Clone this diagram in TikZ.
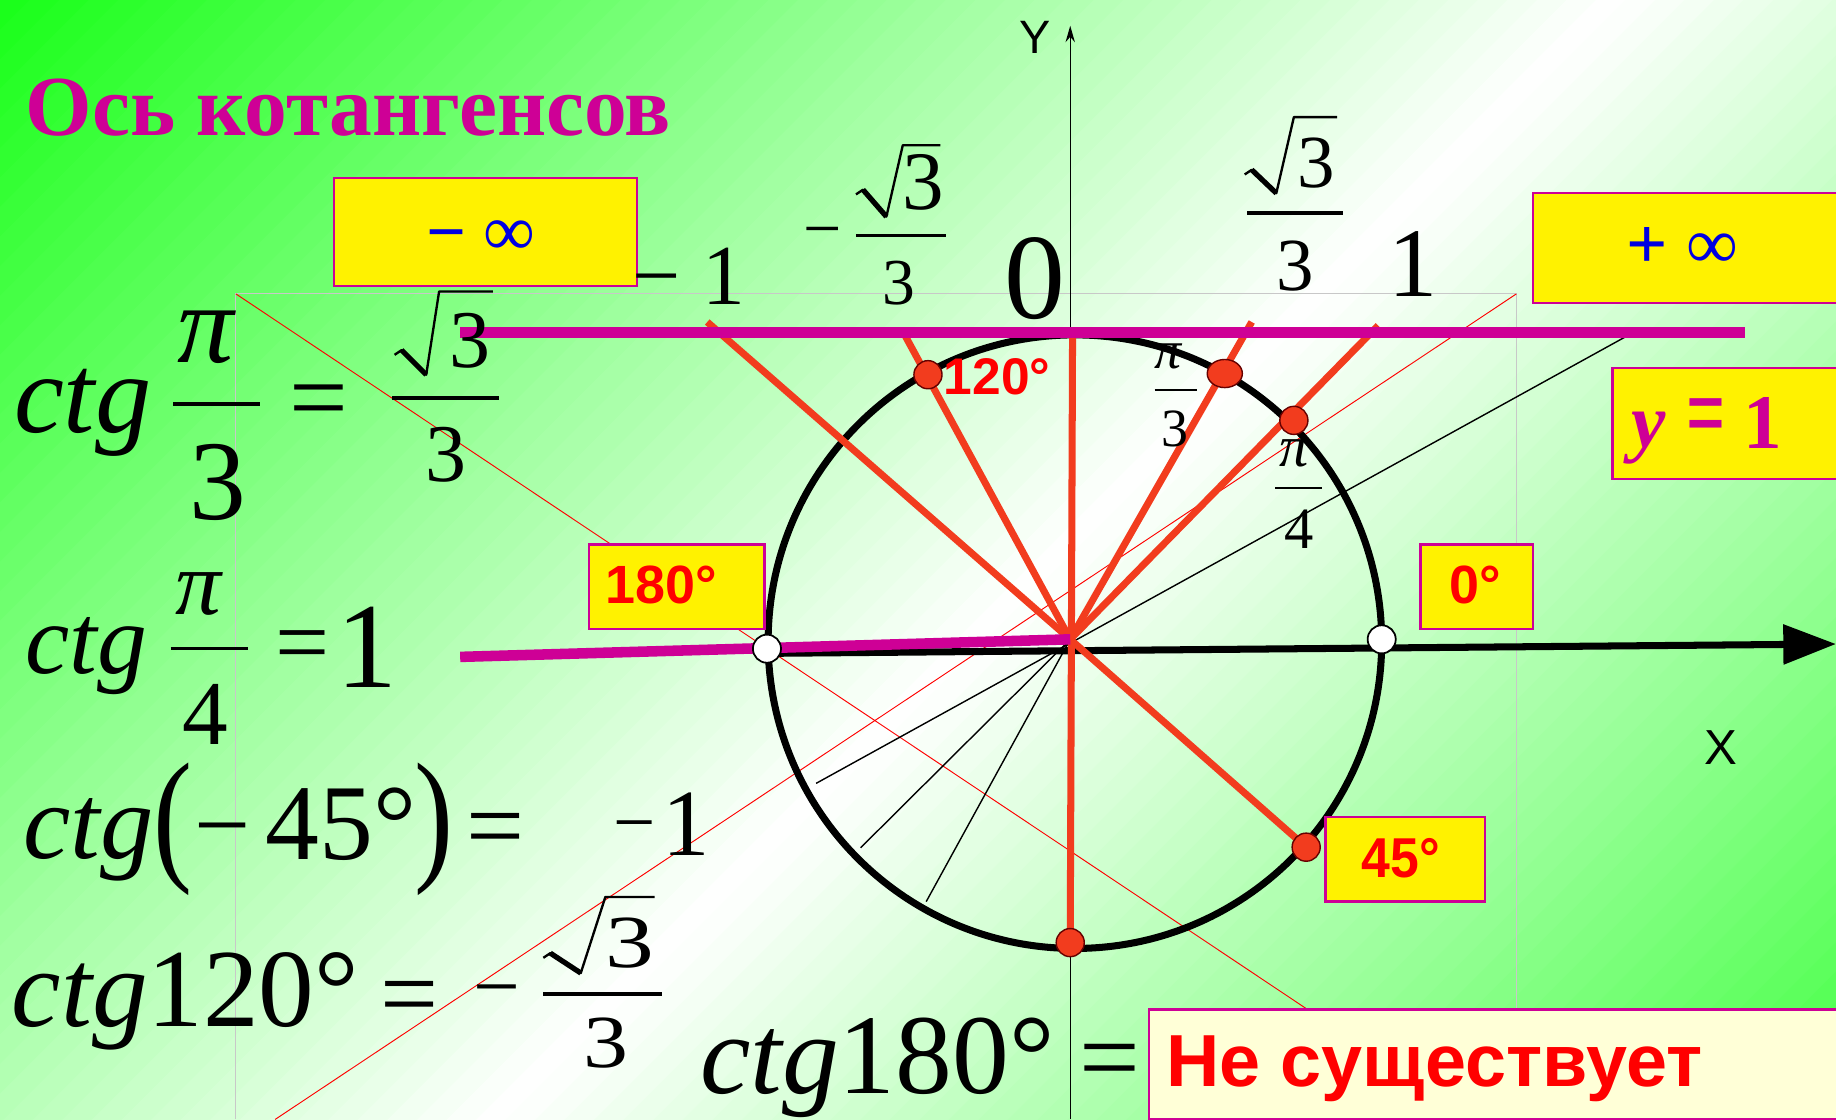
\documentclass[tikz,border=0pt]{standalone}
\usepackage{fontspec}
\setmainfont{Liberation Serif}
\newfontfamily\arialf{Liberation Sans}
\usepackage{graphicx}
\usetikzlibrary{arrows.meta,shapes.geometric}
\newcommand\fsz[1]{\fontsize{#1}{#1}\selectfont}
% radical: tick x,y ; bottom x,y ; top x,y ; end x
\newcommand\radic[7]{%
  \draw[line width=2pt,line join=round] ({#1-6},{#2+4}) -- (#1,#2) -- (#3,#4) -- (#5,#6) -- (#7,#6);
  \draw[line width=4.5pt] (#1,#2) -- (#3,#4);}
\definecolor{gA}{RGB}{25,255,25}
\definecolor{gB}{RGB}{70,255,70}
\definecolor{mag}{RGB}{206,0,150}
\definecolor{redl}{RGB}{242,60,30}
\definecolor{bluet}{RGB}{0,0,225}
\definecolor{grayl}{RGB}{200,200,200}
\definecolor{yelA}{RGB}{255,255,215}
\definecolor{yelB}{RGB}{255,255,120}
\definecolor{redt}{RGB}{255,0,0}
\begin{document}
\begin{tikzpicture}[x=1pt,y=-1pt,
  txt/.style={inner sep=0pt,outer sep=0pt,anchor=base west},
  ybox/.style={draw=mag,line width=2pt,fill=yellow,inner sep=0pt,anchor=north west},
  redline/.style={draw=redl,line width=6pt},
  magline/.style={draw=mag,line width=9pt},
  thinblk/.style={draw=black,line width=1.2pt},
  thinred/.style={draw=red,line width=0.8pt},
  redpt/.style={circle,fill=redl,draw=black!60!red,line width=1.2pt,inner sep=0pt,minimum size=24pt},
  redov/.style={ellipse,fill=redl,draw=black!60!red,line width=1.2pt,inner sep=0pt,minimum width=30pt,minimum height=24pt},
  whitept/.style={circle,fill=white,draw=black,line width=1.5pt,inner sep=0pt,minimum size=24pt},
  lbl/.style={txt,text=redt,font=\arialf\bfseries},
  bar/.style={line width=3pt}]
\useasboundingbox (0,0) rectangle (1568,956);
% background gradient
\begin{scope}
\clip (0,0) rectangle (1568,956);
\foreach \i in {0,...,99}{
  \pgfmathsetmacro\ta{\i*25.24}
  \pgfmathsetmacro\tm{\ta+12.62}
  \pgfmathsetmacro\tb{\ta+27}
  \ifdim\tm pt<1380pt
    \pgfmathsetmacro\pp{\tm/1380*100}
    \colorlet{sc}{white!\pp!gA}
  \else
    \pgfmathsetmacro\pp{(\tm-1380)/1144*100}
    \colorlet{sc}{gB!\pp!white}
  \fi
  \fill[sc] (\ta,0) -- (\tb,0) -- (\tb-1000,1000) -- (\ta-1000,1000) -- cycle;
}
\end{scope}
% key points
\coordinate (O) at (914,546);
\coordinate (C) at (918,548);
\coordinate (Pm1) at (604,275);
\coordinate (P45) at (1115.5,723.5);
\coordinate (P120) at (792.5,320);
\coordinate (T120) at (771,283);
\coordinate (P60) at (1046,319);
\coordinate (T60) at (1069,275);
\coordinate (P45u) at (1105,359);
\coordinate (T45u) at (1177,278);
\coordinate (Ptop) at (916,284);
\coordinate (Pbot) at (914,805);
\coordinate (A30) at (1393,285);
\coordinate (B210) at (697,669);
\coordinate (B225) at (735,724);
\coordinate (B240) at (791,770);
\coordinate (GL) at (201.5,251);
\coordinate (GR) at (1295,251);
\coordinate (GLb) at (201.5,956);
\coordinate (GRb) at (1295,956);
\coordinate (D1) at (1115,861);
\coordinate (D2) at (235,956);
\coordinate (XL) at (655,558);
\coordinate (XR) at (1568,550);
\coordinate (YB) at (914,956);
\coordinate (YT) at (914,22);
\coordinate (M1a) at (393,284);
\coordinate (M1b) at (1490,284);
\coordinate (M2a) at (393,561);
\coordinate (M2b) at (914,546);
% gray frame and thin red diagonals
\draw[grayl,line width=0.9pt] (GLb) -- (GL) -- (GR) -- (GRb);
\draw[thinred] (GL) -- (D1);
\draw[thinred] (GR) -- (D2);
% thin black lines
\draw[thinblk] (B210) -- (A30);
\draw[thinblk] (O) -- (B225);
\draw[thinblk] (O) -- (B240);
% circle
\draw[line width=6pt] (C) circle[radius=262];
% axes
\draw[line width=1.2pt,-{Stealth[length=14pt,width=8pt]}] (YB) -- (YT);
\draw[line width=6pt,-{Triangle[length=45pt,width=33pt]}] (XL) -- (XR);
% red lines
\draw[redline] (Pm1) -- (O) -- (P45);
\draw[redline] (T120) -- (O);
\draw[redline] (T60) -- (O);
\draw[redline] (T45u) -- (O);
\draw[redline] (Ptop) -- (Pbot);
% magenta lines
\draw[magline] (M1a) -- (M1b);
\draw[magline] (M2a) -- (M2b);
% points
\node[redpt] (dot120) at (P120) {};
\node[redov] (dot60) at (P60) {};
\node[redpt] (dot45u) at (P45u) {};
\node[redpt] (dot45) at (P45) {};
\node[redpt] (dotbot) at (Pbot) {};
\node[whitept] (w180) at (655,554) {};
\node[whitept] (w0) at (1180,546) {};
% axis labels
\node[txt,font=\arialf\fsz{40}] (ylab) at (871,46) {Y};
\node[txt,font=\arialf\fsz{42}] (xlab) at (1456,653) {X};
% title
\node[txt,font=\fsz{73}\bfseries,text=mag] (title) at (22,116) {Ось котангенсов};
% boxes
\node[ybox,minimum width=259pt,minimum height=92pt] (boxneg) at (284,151) {};
\node[txt,font=\fsz{60}\bfseries,text=bluet] (negm) at (364,218) {−};
\node[txt,font=\fsz{62},text=bluet] (neginf) at (413,218) {∞};
\node[ybox,minimum width=262pt,minimum height=94pt] (boxpos) at (1308,164) {};
\node[txt,font=\fsz{62}\bfseries,text=bluet] (posp) at (1389,229) {+};
\node[txt,font=\fsz{62},text=bluet] (posinf) at (1440,229) {∞};
\node[ybox,minimum width=194pt,minimum height=95pt] (boxy) at (1376,313) {};
\node[txt,font=\fsz{66}\bfseries\itshape,text=mag] (yy) at (1393,382) {y};
\node[txt,font=\fsz{62}\bfseries,text=mag] (yeq) at (1440,384) {\scalebox{0.95}[1.5]{=}};
\node[txt,font=\fsz{66}\bfseries,text=mag] (y1) at (1489,383) {1};
\node[ybox,minimum width=150pt,minimum height=72pt] (box180) at (502,464) {};
\node[lbl,font=\arialf\bfseries\fsz{46}] (t180) at (517,515) {180°};
\node[ybox,minimum width=96pt,minimum height=72pt] (box0) at (1212,464) {};
\node[lbl,font=\arialf\bfseries\fsz{46}] (t0) at (1238,515) {0°};
\node[ybox,minimum width=136pt,minimum height=72pt] (box45) at (1131,697) {};
\node[lbl,font=\arialf\bfseries\fsz{48}] (t45) at (1163,749) {\scalebox{0.92}[1]{45°}};
\node[lbl,font=\arialf\bfseries\fsz{44}] (t120) at (806,337) {120°};
\node[draw=mag,line width=2pt,left color=yelA,middle color=yelB,right color=yelA,
      inner sep=0pt,anchor=north west,minimum width=590pt,minimum height=94pt] (boxne) at (980,861) {};
\node[lbl,font=\arialf\bfseries\fsz{63}] (tne) at (996,928) {Не существует};
% numbers on the cotangent axis
\node[txt,font=\fsz{73}] (am1m) at (540,260) {−};
\node[txt,font=\fsz{73}] (am1) at (600,260) {1};
\node[txt,font=\fsz{58}] (asm) at (686,215) {−};
\draw[bar] (731,201) -- (808,201);
\radic{737}{162}{757}{185}{771}{124}{803}
\node[txt,font=\fsz{71}] (as3n) at (771,179) {3};
\node[txt,font=\fsz{56}] (as3d) at (754,260) {3};
\node[txt,font=\fsz{104}] (a0) at (858,272) {0};
\draw[bar] (1065,182) -- (1147,182);
\radic{1069}{145}{1090}{165}{1105}{100}{1142}
\node[txt,font=\fsz{64}] (bs3n) at (1108,160) {3};
\node[txt,font=\fsz{64}] (bs3d) at (1090,248) {3};
\node[txt,font=\fsz{84}] (b1) at (1186,253) {1};
% small pi labels
\node[txt,font=\fsz{46}\itshape] (pi3n) at (986,315) {π};
\draw[line width=2pt] (986,333) -- (1022,333);
\node[txt,font=\fsz{46}] (pi3d) at (992,381) {3};
\node[txt,font=\fsz{50}\itshape] (pi4n) at (1093,398) {π};
\draw[line width=2pt] (1089,417) -- (1129,417);
\node[txt,font=\fsz{50}] (pi4d) at (1097,468) {4};
% equation 1
\node[txt,font=\fsz{96}\itshape] (e1ctg) at (12,369) {ctg};
\node[txt,font=\fsz{96}\itshape] (e1pi) at (152,310) {π};
\draw[bar] (148,345) -- (222,345);
\node[txt,font=\fsz{97}] (e1d) at (162,444) {3};
\node[txt,font=\fsz{89}] (e1eq) at (247,369) {=};
\draw[bar] (335,340) -- (426,340);
\radic{343}{299}{364}{320}{375}{249}{421}
\node[txt,font=\fsz{70}] (e1n3) at (384,314) {3};
\node[txt,font=\fsz{70}] (e1d3) at (363,411) {3};
% equation 2
\node[txt,font=\fsz{85}\itshape] (e2ctg) at (22,575) {ctg};
\node[txt,font=\fsz{78}\itshape] (e2pi) at (150,525) {π};
\draw[bar] (146,554) -- (212,554);
\node[txt,font=\fsz{78}] (e2d) at (156,636) {4};
\node[txt,font=\fsz{82}] (e2eq) at (235,576) {=};
\node[txt,font=\fsz{104}] (e2one) at (287,587) {1};
% equation 3
\node[txt,font=\fsz{91}\itshape] (e3ctg) at (20,733) {ctg};
\node[txt,font=\fsz{125}] (e3lp) at (131,738) {\scalebox{0.8}[1]{(}};
\node[txt,font=\fsz{85}] (e3m) at (166,733) {−};
\node[txt,font=\fsz{92}] (e3n) at (227,734) {45°};
\node[txt,font=\fsz{125}] (e3rp) at (354,738) {\scalebox{0.8}[1]{)}};
\node[txt,font=\fsz{88}] (e3eq) at (398,735) {=};
\node[txt,font=\fsz{64}] (e3m2) at (524,724) {−};
\node[txt,font=\fsz{81}] (e3one) at (566,731) {1};
% equation 4
\node[txt,font=\fsz{95}] (e4) at (10,877) {\textit{ctg}120°};
\node[txt,font=\fsz{88}] (e4eq) at (325,878) {=};
\node[txt,font=\fsz{71}] (e4m) at (404,866) {−};
\draw[bar] (464,849) -- (565,849);
\radic{470}{814}{496}{831}{517}{766}{559}
\node[txt,font=\fsz{64}] (e4n3) at (517,826) {\scalebox{1.3}[1]{3}};
\node[txt,font=\fsz{64}] (e4d3) at (498,912) {\scalebox{1.2}[1]{3}};
% equation 5
\node[txt,font=\fsz{97}] (e5) at (598,934) {\textit{ctg}180°};
\node[txt,font=\fsz{92}] (e5eq) at (922,934) {=};
\end{tikzpicture}
\end{document}
